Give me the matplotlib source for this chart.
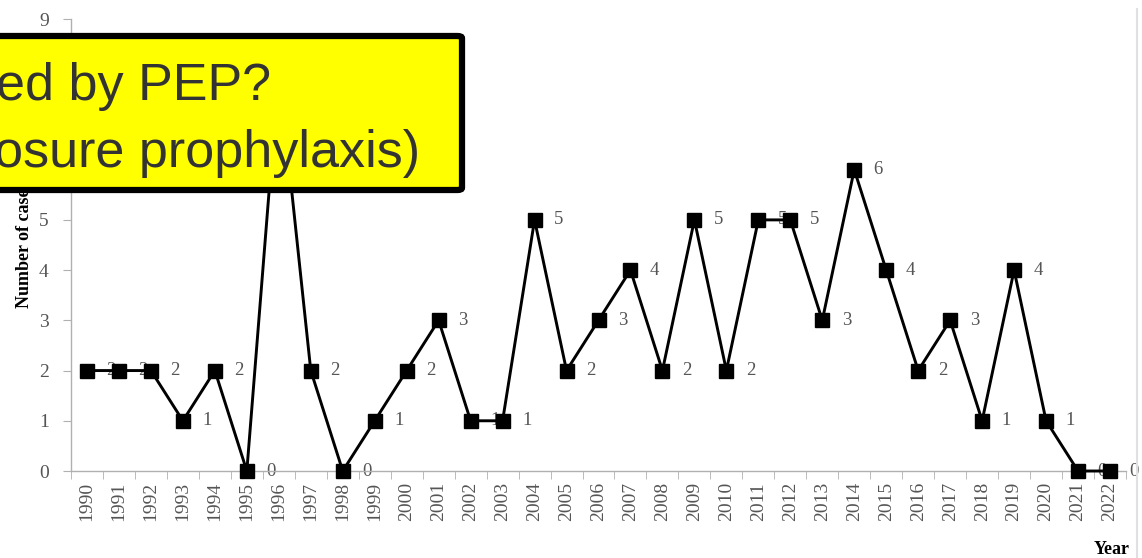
import matplotlib
matplotlib.use("Agg")
import matplotlib.pyplot as plt
from matplotlib.patches import FancyBboxPatch
from matplotlib.lines import Line2D

years = [str(y) for y in range(1990, 2023)]
cases = [2, 2, 2, 1, 2, 0, 8, 2, 0, 1, 2, 3, 1, 1, 5, 2, 3, 4, 2, 5, 2, 5, 5, 3, 6, 4, 2, 3, 1, 4, 1, 0, 0]
yticks = list(range(0, 10))
overlay_lines = ["ed by PEP?", "osure prophylaxis)"]

W, H = 1142, 558
fig = plt.figure(figsize=(W / 100, H / 100), dpi=100)
ax = fig.add_axes([71 / W, (H - 471) / H, (1126 - 71) / W, (471 - 19) / H])

serif = ["Liberation Serif", "DejaVu Serif"]
gray = "#b0b0b0"
txtgray = "#555555"

x = list(range(len(years)))
ax.plot(x, cases, color="black", lw=2.1, marker="s", markersize=10,
        markerfacecolor="black", markeredgecolor="black", zorder=3, clip_on=False)
for xi, v in zip(x, cases):
    ax.annotate(str(v), (xi, v), xytext=(14, 0), textcoords="offset points",
                ha="left", va="center", fontsize=13.5, family=serif, color=txtgray, zorder=2)

ax.set_xlim(-0.5, len(years) - 0.5)
ax.set_ylim(0, 9)
ax.set_yticks(yticks)
ax.set_yticklabels([str(t) for t in yticks], family=serif, fontsize=14, color=txtgray)
ax.set_xticks(x)
ax.set_xticklabels(years, rotation=90, family=serif, fontsize=14, color=txtgray)
ax.set_xticks([i - 0.5 for i in range(len(years) + 1)], minor=True)
ax.tick_params(axis="x", which="major", length=0, pad=8)
ax.tick_params(axis="x", which="minor", length=6, color=gray, direction="out")
ax.tick_params(axis="y", length=6, color=gray, direction="out", pad=10)

for s in ["top", "right"]:
    ax.spines[s].set_visible(False)
for s in ["left", "bottom"]:
    ax.spines[s].set_color(gray)
    ax.spines[s].set_linewidth(1.0)

ax.set_ylabel("Number of cases", family=serif, fontsize=13, fontweight="bold", labelpad=4)
fig.text(1130 / W, 1 - 549 / H, "Year", family=serif, fontsize=13, fontweight="bold",
         ha="right", va="center")

# chart border line on right
fig.add_artist(Line2D([1136.5 / W, 1136.5 / W], [0, 1 - 9 / H], color="#e0e0e0", lw=1.5))

# yellow overlay callout
box = FancyBboxPatch((-20 / W, 1 - 190 / H), (462 + 20) / W, (190 - 36) / H,
                     boxstyle="round,pad=0,rounding_size=0.004", transform=fig.transFigure,
                     facecolor="#ffff00", edgecolor="black", lw=4.5, zorder=10)
fig.add_artist(box)
fig.text(-4 / W, 1 - 100 / H, overlay_lines[0], family=["Liberation Sans", "DejaVu Sans"],
         fontsize=37.5, color="#333333", ha="left", va="baseline", zorder=11)
fig.text(-6 / W, 1 - 167 / H, overlay_lines[1], family=["Liberation Sans", "DejaVu Sans"],
         fontsize=37.5, color="#333333", ha="left", va="baseline", zorder=11)

fig.savefig("out.png", dpi=100)
